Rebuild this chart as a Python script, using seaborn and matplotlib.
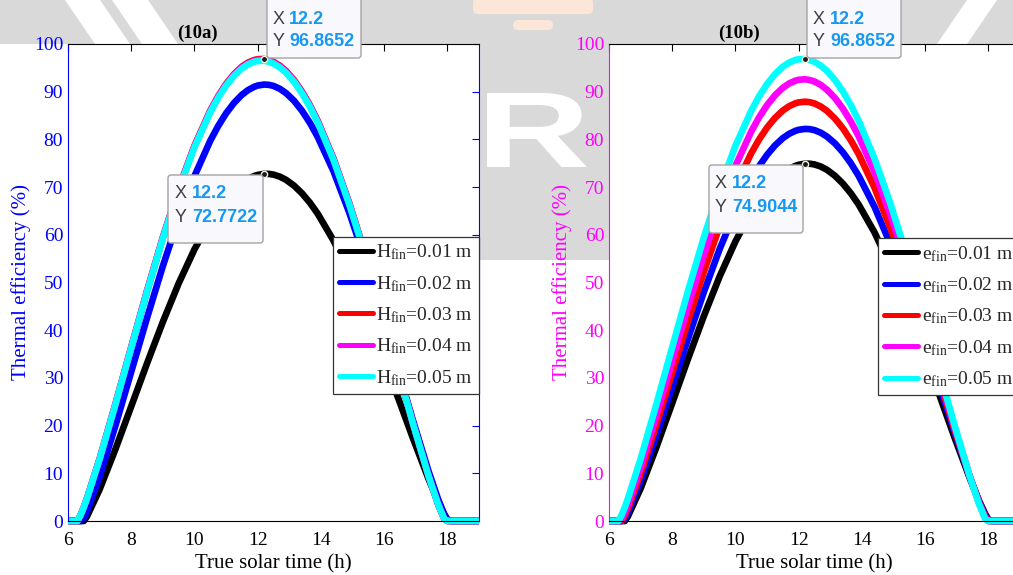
import numpy as np
import pandas as pd
import matplotlib
matplotlib.use("Agg")
import matplotlib.pyplot as plt
import matplotlib.transforms as mtransforms
from matplotlib.patches import FancyBboxPatch, Rectangle, Polygon, PathPatch
from matplotlib.lines import Line2D
from matplotlib.textpath import TextPath
from matplotlib.font_manager import FontProperties
import seaborn as sns

sns.set_style("white")
plt.rcParams["font.family"] = ["Liberation Serif", "DejaVu Serif"]
plt.rcParams["mathtext.fontset"] = "custom"
plt.rcParams["mathtext.rm"] = "Liberation Serif"
plt.rcParams["mathtext.it"] = "Liberation Serif:italic"

# ---------------- data ----------------
time_h = [6.0, 6.2, 6.3, 6.4, 6.5, 6.6, 7.0, 7.5, 8.0, 8.5, 9.0, 9.5, 10.0, 10.5, 10.75, 11.0,
          11.25, 11.5, 11.7, 11.9, 12.0, 12.2, 12.35, 12.5, 12.7, 12.9, 13.15, 13.4, 13.65, 13.9,
          14.4, 14.9, 15.4, 15.9, 16.4, 16.9, 17.4, 17.7, 17.9, 18.0, 18.1, 18.2, 18.5, 19.0]

# (10a) fin height
h_001 = [0, 0, 0, 0, 0, 0.96, 6.62, 15.05, 24.03, 33.05, 41.74, 49.81, 56.95, 62.96, 65.48, 67.65,
         69.46, 70.88, 71.74, 72.35, 72.55, 72.7722, 72.77, 72.62, 72.19, 71.51, 70.30, 68.71, 66.74, 64.41,
         58.76, 51.91, 44.09, 35.52, 26.57, 17.54, 8.89, 4.18, 1.44, 0.32, 0, 0, 0, 0]
h_002 = [0, 0, 0, 0, 0.53, 1.97, 9.31, 19.99, 31.29, 42.58, 53.44, 63.46, 72.31, 79.72, 82.81, 85.46,
         87.64, 89.35, 90.36, 91.06, 91.29, 91.50, 91.44, 91.21, 90.61, 89.69, 88.10, 86.02, 83.49, 80.50,
         73.29, 64.59, 54.73, 43.88, 32.66, 21.33, 10.53, 4.69, 1.35, 0.07, 0, 0, 0, 0]
h_003 = [0, 0, 0, 1.27, 2.91, 4.74, 13.02, 24.52, 36.45, 48.25, 59.47, 69.74, 78.67, 86.04, 89.06, 91.62,
         93.68, 95.26, 96.12, 96.67, 96.80, 96.8652, 96.64, 96.26, 95.45, 94.32, 92.42, 90.04, 87.18, 83.87,
         75.96, 66.58, 55.99, 44.49, 32.62, 20.76, 9.56, 3.62, 0.42, 0, 0, 0, 0, 0]
h_004 = [0, 0, 0, 1.27, 2.91, 4.73, 13.00, 24.48, 36.39, 48.17, 59.37, 69.61, 78.53, 85.89, 88.91, 91.46,
         93.52, 95.08, 95.96, 96.50, 96.64, 96.70, 96.48, 96.09, 95.28, 94.15, 92.26, 89.88, 87.03, 83.72,
         75.83, 66.46, 55.89, 44.41, 32.57, 20.72, 9.54, 3.62, 0.43, 0, 0, 0, 0, 0]
h_005 = [0, 0, 0, 1.27, 2.90, 4.72, 12.97, 24.42, 36.31, 48.07, 59.25, 69.47, 78.37, 85.71, 88.73, 91.27,
         93.33, 94.89, 95.76, 96.30, 96.44, 96.50, 96.28, 95.89, 95.09, 93.95, 92.07, 89.70, 86.85, 83.55,
         75.68, 66.32, 55.78, 44.32, 32.50, 20.68, 9.52, 3.61, 0.42, 0, 0, 0, 0, 0]

# (10b) fin thickness
e_001 = [0, 0, 0, 0, 0, 0.99, 6.82, 15.49, 24.73, 34.01, 42.96, 51.27, 58.62, 64.81, 67.40, 69.63,
         71.49, 72.96, 73.84, 74.46, 74.68, 74.9044, 74.90, 74.75, 74.31, 73.60, 72.36, 70.72, 68.70, 66.30,
         60.48, 53.43, 45.38, 36.56, 27.35, 18.05, 9.15, 4.30, 1.48, 0.33, 0, 0, 0, 0]
e_002 = [0, 0, 0, 0, 0.48, 1.77, 8.36, 17.96, 28.11, 38.26, 48.00, 57.01, 64.96, 71.62, 74.39, 76.77,
         78.74, 80.27, 81.18, 81.81, 82.01, 82.20, 82.15, 81.94, 81.40, 80.57, 79.14, 77.28, 75.00, 72.32,
         65.84, 58.03, 49.16, 39.42, 29.34, 19.16, 9.46, 4.22, 1.22, 0.07, 0, 0, 0, 0]
e_003 = [0, 0, 0, 0, 1.16, 2.66, 9.90, 20.23, 31.09, 41.90, 52.25, 61.78, 70.16, 77.12, 80.01, 82.48,
         84.50, 86.06, 86.97, 87.58, 87.76, 87.90, 87.80, 87.53, 86.89, 85.95, 84.35, 82.30, 79.80, 76.88,
         69.84, 61.42, 51.88, 41.45, 30.65, 19.80, 9.51, 3.98, 0.89, 0, 0, 0, 0, 0]
e_004 = [0, 0, 0, 0.41, 1.82, 3.48, 11.23, 22.17, 33.60, 44.96, 55.79, 65.72, 74.45, 81.67, 84.66, 87.19,
         89.25, 90.83, 91.74, 92.32, 92.50, 92.60, 92.45, 92.13, 91.41, 90.38, 88.65, 86.42, 83.75, 80.63,
         73.15, 64.22, 54.13, 43.17, 31.77, 20.37, 9.58, 3.83, 0.66, 0, 0, 0, 0, 0]
e_005 = [0, 0, 0, 1.27, 2.91, 4.74, 13.02, 24.52, 36.45, 48.25, 59.47, 69.74, 78.67, 86.04, 89.06, 91.62,
         93.68, 95.26, 96.12, 96.67, 96.80, 96.8652, 96.64, 96.26, 95.45, 94.32, 92.42, 90.04, 87.18, 83.87,
         75.96, 66.58, 55.99, 44.49, 32.62, 20.76, 9.56, 3.62, 0.42, 0, 0, 0, 0, 0]

fin_values = ["0.01", "0.02", "0.03", "0.04", "0.05"]
labels_a = [r"$\mathregular{H_{fin}}$=" + v + " m" for v in fin_values]
labels_b = [r"$\mathregular{e_{fin}}$=" + v + " m" for v in fin_values]
series_a = [h_001, h_002, h_003, h_004, h_005]
series_b = [e_001, e_002, e_003, e_004, e_005]
line_colors = ["#000000", "#0000ff", "#ff0000", "#ff00ff", "#00ffff"]
x_ticks = [6, 8, 10, 12, 14, 16, 18]
y_ticks = [0, 10, 20, 30, 40, 50, 60, 70, 80, 90, 100]


def long_form(series, labels):
    frames = []
    for vals, lab in zip(series, labels):
        frames.append(pd.DataFrame({"time": time_h, "eff": vals, "series": lab}))
    return pd.concat(frames, ignore_index=True)


# ---------------- figure ----------------
W, H = 1013, 575
fig = plt.figure(figsize=(W / 100, H / 100), dpi=100)
fig.patch.set_facecolor("white")
inch = fig.dpi_scale_trans


def P(x, y):
    return (x / 100.0, (H - y) / 100.0)


# faint watermark behind the axes
wm_gray = "#d9d9d9"
fig.patches.append(Rectangle(P(0, 44), W / 100, 0.50, transform=inch, fc=wm_gray, ec="none", zorder=-10))
fig.patches.append(Rectangle(P(470, 260), 1.50, 2.20, transform=inch, fc=wm_gray, ec="none", zorder=-10))
for poly in ([(65, 0), (100, 0), (130, 44), (95, 44)], [(112, 0), (148, 0), (178, 44), (142, 44)],
             [(967, 0), (997, 0), (967, 44), (937, 44)]):
    fig.patches.append(Polygon([P(*p) for p in poly], closed=True, transform=inch,
                               fc="white", ec="none", zorder=-9))
fig.patches.append(FancyBboxPatch(P(473, 14), 1.20, 0.16, boxstyle="round,pad=0,rounding_size=0.05",
                                  transform=inch, fc="#fce6d8", ec="none", zorder=-9))
fig.patches.append(FancyBboxPatch(P(513, 30), 0.40, 0.10, boxstyle="round,pad=0,rounding_size=0.05",
                                  transform=inch, fc="#fce6d8", ec="none", zorder=-9))
rpath = TextPath((0, 0), "R", size=1, prop=FontProperties(family="Liberation Sans", weight="bold"))
ext = rpath.get_extents()
r_tr = (mtransforms.Affine2D().translate(-ext.x0, -ext.y0)
        .scale(1.00 / ext.width, 0.74 / ext.height).translate(*P(487, 167)) + inch)
fig.patches.append(PathPatch(rpath, transform=r_tr, fc="white", ec="none", zorder=-8))

ax_w, ax_h = 411 / W, 477 / H
ax1 = fig.add_axes([68 / W, 1 - 521 / H, ax_w, ax_h])
ax2 = fig.add_axes([609 / W, 1 - 521 / H, ax_w, ax_h])

panels = [
    (ax1, series_a, labels_a, "#0000ff", "(10a)", (0.644, 0.596)),
    (ax2, series_b, labels_b, "#ff00ff", "(10b)", (0.655, 0.593)),
]

for ax, series, labels, ycol, title, leg_anchor in panels:
    ax.set_facecolor("white")
    df = long_form(series, labels)
    sns.lineplot(data=df, x="time", y="eff", hue="series", hue_order=labels,
                 palette=line_colors, linewidth=4.8, estimator=None, sort=False,
                 legend=False, ax=ax)
    for ln in ax.lines:
        ln.set_clip_on(False)
        ln.set_solid_joinstyle("round")
        ln.set_solid_capstyle("butt")
    ax.set_xlim(6, 19)
    ax.set_ylim(0, 100)
    ax.set_xticks(x_ticks)
    ax.set_yticks(y_ticks)
    ax.tick_params(direction="in", length=5, width=0.8, top=True, right=True,
                   labelsize=14, labeltop=False, labelright=False)
    ax.tick_params(axis="x", colors="black", pad=8)
    ax.tick_params(axis="y", colors=ycol, pad=3.5)
    for side in ("top", "bottom"):
        ax.spines[side].set_color("black")
        ax.spines[side].set_linewidth(0.8)
    for side in ("left", "right"):
        ax.spines[side].set_color(ycol)
        ax.spines[side].set_linewidth(0.8)
    ax.set_xlabel("True solar time (h)", fontsize=15, labelpad=4, color="black")
    ax.set_ylabel("Thermal efficiency (%)", fontsize=15, labelpad=2, color=ycol)
    trans = mtransforms.blended_transform_factory(ax.transData, ax.transAxes)
    ax.text(10.1, 1 + 11 / 477, title, transform=trans, ha="center", va="center",
            fontsize=13.5, fontweight="bold", color="black")
    handles = [Line2D([], [], color=c, lw=3.6) for c in line_colors]
    leg = ax.legend(handles, labels, loc="upper left", bbox_to_anchor=leg_anchor,
                    frameon=True, fancybox=False, framealpha=1, edgecolor="#333333",
                    facecolor="white", fontsize=14, handlelength=1.75, handletextpad=0.2,
                    borderpad=0.3, labelspacing=0.6, borderaxespad=0)
    leg.get_frame().set_linewidth(0.9)
    leg.set_zorder(6)


# ---------------- data tips ----------------
peak_idx = time_h.index(12.2)


def datatip(ax, xs, ys, box, xtext, rows):
    x, y = xs[peak_idx], ys[peak_idx]
    ax.plot([x], [y], marker="o", ms=4.5, mfc="#1a1a1a", mec="#f2f2d8", mew=1.0,
            clip_on=False, zorder=12)
    x0, y0, x1, y1 = box
    fig.patches.append(FancyBboxPatch(P(x0, y1), (x1 - x0) / 100, (y1 - y0) / 100,
                                      boxstyle="round,pad=0,rounding_size=0.03", transform=inch,
                                      fc="#f9f9fd", ec="#a3a3a3", lw=1.0, zorder=20))
    for key, val, yy in (("X", f"{x:.1f}", rows[0]), ("Y", f"{y:.4f}", rows[1])):
        fig.text(*P(xtext[0], yy), key, transform=inch, ha="left", va="center",
                 fontsize=13, family="Liberation Sans", color="#404040", zorder=21)
        fig.text(*P(xtext[1], yy), val, transform=inch, ha="left", va="center",
                 fontsize=13, family="Liberation Sans", fontweight="bold",
                 color="#1798f2", zorder=21)


datatip(ax1, time_h, h_003, (267, -3, 361, 58), (273, 289), (19, 42))
datatip(ax1, time_h, h_001, (168, 175, 263, 243), (175, 192), (194, 217))
datatip(ax2, time_h, e_005, (807, -3, 901, 58), (813, 830), (19, 42))
datatip(ax2, time_h, e_001, (709, 165, 803, 233), (715, 732), (184, 207))

fig.savefig("out.png", dpi=100)
